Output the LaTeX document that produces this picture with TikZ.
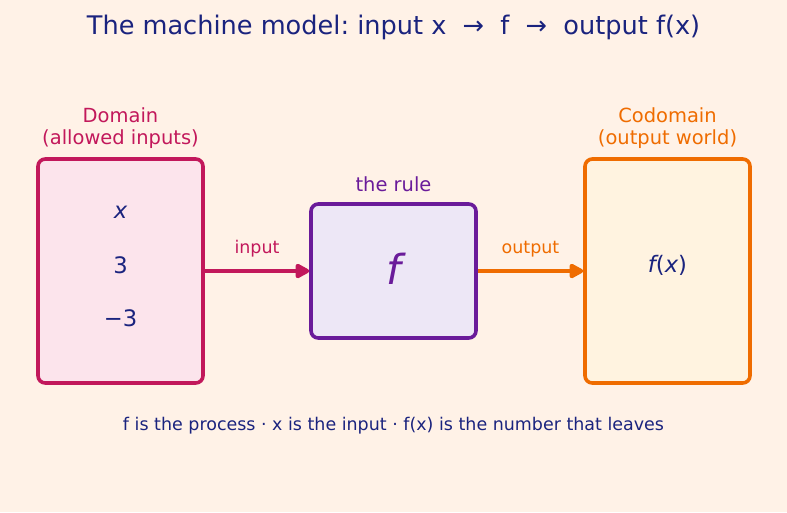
\documentclass[tikz,border=0pt]{standalone}
\usepackage{fontspec}
\setmainfont{DejaVu Sans}
\usetikzlibrary{arrows.meta}
\definecolor{bgpeach}{HTML}{FFF2E7}
\definecolor{navy}{HTML}{1A237E}
\definecolor{crimson}{HTML}{C2185B}
\definecolor{grape}{HTML}{6A1B9A}
\definecolor{tangerine}{HTML}{EF6C00}
\definecolor{domfill}{HTML}{FCE4EC}
\definecolor{rulefill}{HTML}{EDE7F6}
\definecolor{codfill}{HTML}{FFF3E0}
\frenchspacing
\begin{document}
\begin{tikzpicture}[x=0.75pt,y=-0.75pt,
    box/.style={draw,line width=2.7pt,rounded corners=5.5pt,minimum width=123.75pt},
    tall/.style={box,minimum height=168pt},
    head/.style={font=\fontsize{14.6}{17}\selectfont,align=center},
    small/.style={font=\fontsize{13.1}{15}\selectfont},
    val/.style={font=\fontsize{17}{19}\selectfont,text=navy},
    link/.style={-{Triangle[length=12pt,width=12pt,round]},line width=3pt}]
  \useasboundingbox[fill=bgpeach] (0,0) rectangle (787,512);
  % title
  \node[text=navy,font=\fontsize{19.2}{23}\selectfont] (title) at (393.5,27)
    {The machine model: input x~ → ~f~ → ~output f(x)};
  % the three boxes
  \node[tall,draw=crimson,fill=domfill] (dom) at (120.5,271) {};
  \node[box,draw=grape,fill=rulefill,minimum height=100.5pt] (rule) at (393.5,271) {};
  \node[tall,draw=tangerine,fill=codfill] (cod) at (667.5,271) {};
  % headings
  \node[head,text=crimson] (domlbl) at (120.5,128) {Domain\\(allowed inputs)};
  \node[head,text=tangerine] (codlbl) at (667.5,128) {Codomain\\(output world)};
  \node[head,text=grape] (rulelbl) at (393.5,184) {the rule};
  % contents
  \node[val] (vx) at (120.5,212) {\itshape x};
  \node[val] (vthree) at (120.5,265) {3};
  \node[val] (vneg) at (120.5,318) {−3};
  \node[text=grape,font=\fontsize{31}{34}\selectfont\itshape] (fname) at (393.5,269) {f};
  \node[val] (fx) at (667.5,265) {\itshape f\upshape(\itshape x\upshape)};
  % arrows
  \draw[link,crimson] (dom.east) -- (rule.west)
    node[midway,above=5.5pt,small] (inlbl) {input};
  \draw[link,tangerine] (rule.east) -- (cod.west)
    node[midway,above=5.5pt,small] (outlbl) {output};
  % caption
  \node[small,text=navy] (caption) at (393.5,426)
    {f is the process · x is the input · f(x) is the number that leaves};
\end{tikzpicture}
\end{document}
